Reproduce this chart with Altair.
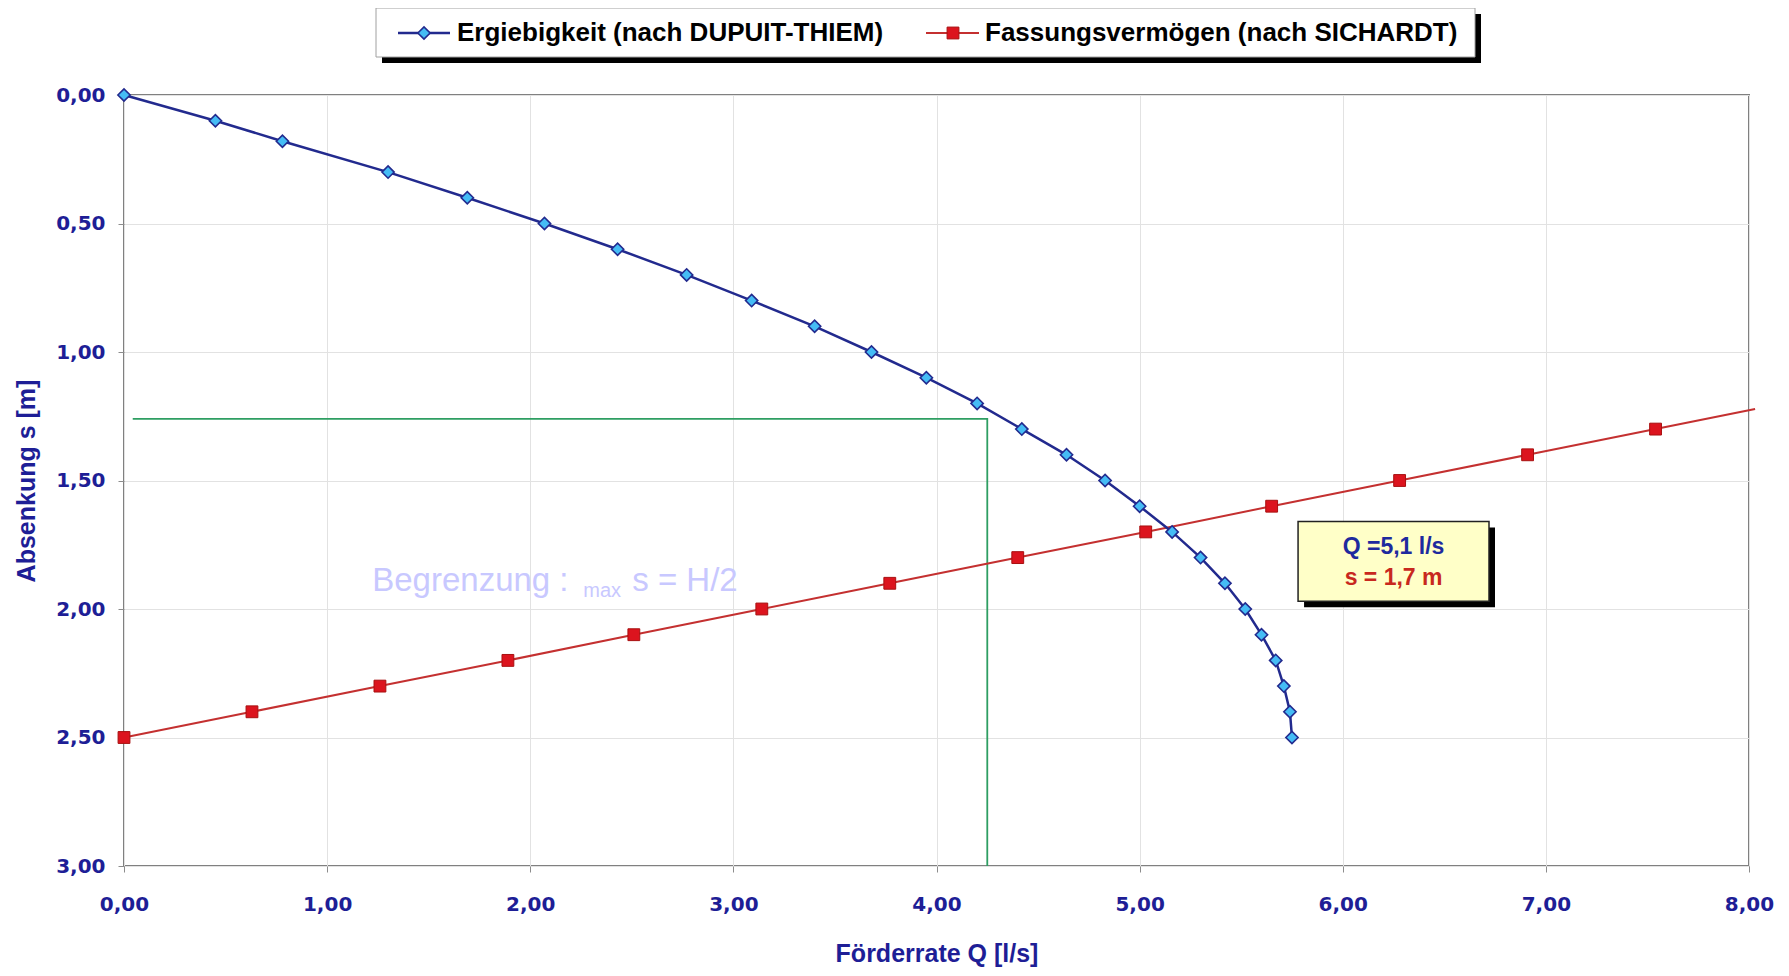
import altair as alt
import pandas as pd

# ---------------- data ----------------
s_dupuit = [0.0, 0.10, 0.18, 0.30, 0.40, 0.50, 0.60, 0.70, 0.80, 0.90, 1.00, 1.10, 1.20,
            1.30, 1.40, 1.50, 1.60, 1.70, 1.80, 1.90, 2.00, 2.10, 2.20, 2.30, 2.40, 2.50]
q_dupuit = [0.0, 0.45, 0.78, 1.30, 1.69, 2.07, 2.43, 2.77, 3.09, 3.40, 3.68, 3.95, 4.20,
            4.42, 4.64, 4.83, 5.00, 5.16, 5.30, 5.42, 5.52, 5.60, 5.67, 5.71, 5.74, 5.75]

s_sichardt = [2.5, 2.4, 2.3, 2.2, 2.1, 2.0, 1.9, 1.8, 1.7, 1.6, 1.5, 1.4, 1.3]
q_sichardt = [0.0, 0.63, 1.26, 1.89, 2.51, 3.14, 3.77, 4.40, 5.03, 5.65, 6.28, 6.91, 7.54]
# the red line continues a little past the last marker (visible end in the picture)
s_sichardt_end = [1.222]
q_sichardt_end = [8.03]

green_q = [0.043, 4.25, 4.25]
green_s = [1.26, 1.26, 3.0]

x_ticks = [0, 1, 2, 3, 4, 5, 6, 7, 8]
y_ticks = [0.0, 0.5, 1.0, 1.5, 2.0, 2.5, 3.0]

legend_labels = ["Ergiebigkeit (nach DUPUIT-THIEM)", "Fassungsvermögen (nach SICHARDT)"]
x_title = "Förderrate Q [l/s]"
y_title = "Absenkung s [m]"

box_q = [5.78, 6.72]
box_s = [1.66, 1.97]
box_texts = ["Q =5,1 l/s", "s = 1,7 m"]
box_text_q = [6.25, 6.25]
box_text_s = [1.76, 1.878]

limit_texts = ["Begrenzung :", "max", "s = H/2"]
limit_q = [1.222, 2.261, 2.502]
limit_s = [1.93, 1.955, 1.93]

# ---------------- styling ----------------
NAVY = "#1E1E96"
BLUE_LINE = "#222A8E"
BLUE_FILL = "#45BCF5"
RED_LINE = "#C43030"
RED_FILL = "#DC141E"
RED_STROKE = "#A81010"
GREEN = "#2E9E62"

W, H = 1625, 771

label_expr = "replace(format(datum.value, '.2f'), '.', ',')"

xscale = alt.Scale(domain=[0, 8], nice=False, zero=False)
yscale = alt.Scale(domain=[0, 3], nice=False, zero=False, reverse=True)

axis_common = dict(
    grid=True, gridColor="#E2E2E2", gridWidth=1, domain=False,
    ticks=True, tickColor="#8C8C8C", tickSize=6, tickWidth=1,
    labelFont="DejaVu Sans", labelFontWeight="bold", labelFontSize=20, labelColor=NAVY,
    labelOverlap=False, labelBound=False, labelFlush=False,
    titleFont="Liberation Sans", titleFontWeight="bold", titleFontSize=25, titleColor=NAVY,
)

xaxis = alt.Axis(values=x_ticks, labelExpr=label_expr, title=x_title, orient="bottom",
                 labelPadding=22, titlePadding=27, labelBaseline="top", labelAlign="center",
                 **axis_common)
yaxis = alt.Axis(values=y_ticks, labelExpr=label_expr, title=y_title, orient="left",
                 labelPadding=13, titlePadding=16, **axis_common)

df_blue = pd.DataFrame({"Q": q_dupuit, "s": s_dupuit})
df_red = pd.DataFrame({"Q": q_sichardt, "s": s_sichardt})
df_red_line = pd.DataFrame({"Q": q_sichardt + q_sichardt_end, "s": s_sichardt + s_sichardt_end})
df_green = pd.DataFrame({"Q": green_q, "s": green_s, "o": list(range(len(green_q)))})

X = alt.X("Q:Q", scale=xscale, axis=xaxis)
Y = alt.Y("s:Q", scale=yscale, axis=yaxis)

green = alt.Chart(df_green).mark_line(color=GREEN, strokeWidth=1.8).encode(x=X, y=Y, order="o:Q")
red_line = alt.Chart(df_red_line).mark_line(color=RED_LINE, strokeWidth=2).encode(x=X, y=Y)
red_pts = alt.Chart(df_red).mark_point(shape="square", filled=True, size=140, fill=RED_FILL,
                                       stroke=RED_STROKE, strokeWidth=1, opacity=1).encode(x=X, y=Y)
blue_line = alt.Chart(df_blue).mark_line(color=BLUE_LINE, strokeWidth=2.5).encode(x=X, y=Y)
blue_pts = alt.Chart(df_blue).mark_point(shape="diamond", filled=True, size=150, fill=BLUE_FILL,
                                         stroke=BLUE_LINE, strokeWidth=1.6, opacity=1).encode(x=X, y=Y)

# limit annotation text (light lavender)
df_lim = pd.DataFrame({"t": limit_texts, "Q": limit_q, "s": limit_s, "fs": [33, 20, 33]})
lim_text = alt.Chart(df_lim).mark_text(align="left", baseline="alphabetic", color="#C8C8FF",
                                       font="Liberation Sans").encode(
    x=X, y=Y, text="t:N", size=alt.Size("fs:Q", scale=None, legend=None))

# result box with shadow
df_box = pd.DataFrame({"Q": [box_q[0]], "Q2": [box_q[1]], "s": [box_s[0]], "s2": [box_s[1]]})
box_shadow = alt.Chart(df_box).mark_rect(color="black", xOffset=6, x2Offset=6, yOffset=6, y2Offset=6).encode(
    x=X, x2="Q2:Q", y=Y, y2="s2:Q")
box = alt.Chart(df_box).mark_rect(fill="#FFFFC8", stroke="#222222", strokeWidth=1.5).encode(
    x=X, x2="Q2:Q", y=Y, y2="s2:Q")
df_bt = pd.DataFrame({"t": box_texts, "Q": box_text_q, "s": box_text_s, "c": ["#1E2A9E", "#C8281E"]})
box_text = alt.Chart(df_bt).mark_text(align="center", baseline="middle", fontSize=23, fontWeight="bold",
                                      font="Liberation Sans").encode(
    x=X, y=Y, text="t:N", color=alt.Color("c:N", scale=None, legend=None))

# legend (drawn above the plot area)
one = alt.Data(values=[{"a": 1}])
leg_shadow = alt.Chart(one).mark_rect(color="black").encode(
    x=alt.value(258), x2=alt.value(1357), y=alt.value(-81), y2=alt.value(-32))
leg_box = alt.Chart(one).mark_rect(fill="white", stroke="#A0A0A0", strokeWidth=1).encode(
    x=alt.value(252), x2=alt.value(1351), y=alt.value(-87), y2=alt.value(-38))
leg_bline = alt.Chart(one).mark_rule(color=BLUE_LINE, strokeWidth=2.5).encode(
    x=alt.value(274), x2=alt.value(326), y=alt.value(-62))
leg_bpt = alt.Chart(one).mark_point(shape="diamond", filled=True, size=150, fill=BLUE_FILL,
                                    stroke=BLUE_LINE, strokeWidth=1.6, opacity=1).encode(
    x=alt.value(300), y=alt.value(-62))
leg_rline = alt.Chart(one).mark_rule(color=RED_LINE, strokeWidth=2).encode(
    x=alt.value(802), x2=alt.value(855), y=alt.value(-62))
leg_rpt = alt.Chart(one).mark_point(shape="square", filled=True, size=140, fill=RED_FILL,
                                    stroke=RED_STROKE, strokeWidth=1, opacity=1).encode(
    x=alt.value(829), y=alt.value(-62))
leg_t1 = alt.Chart(one).mark_text(text=legend_labels[0], align="left", baseline="middle", fontSize=26,
                                  fontWeight="bold", font="Liberation Sans", color="black").encode(
    x=alt.value(333), y=alt.value(-62))
leg_t2 = alt.Chart(one).mark_text(text=legend_labels[1], align="left", baseline="middle", fontSize=26,
                                  fontWeight="bold", font="Liberation Sans", color="black").encode(
    x=alt.value(861), y=alt.value(-62))

chart = alt.layer(
    green, red_line, blue_line, red_pts, blue_pts, lim_text,
    box_shadow, box, box_text,
    leg_shadow, leg_box, leg_bline, leg_bpt, leg_rline, leg_rpt, leg_t1, leg_t2,
).properties(
    width=W, height=H,
    autosize="none",
    background="white",
    padding={"left": 116, "top": 87, "right": 30, "bottom": 101},
).configure_view(
    stroke="#808080", strokeWidth=2, fill="white"
)

chart.save("out.html", embed_options={"renderer": "svg", "actions": False})
